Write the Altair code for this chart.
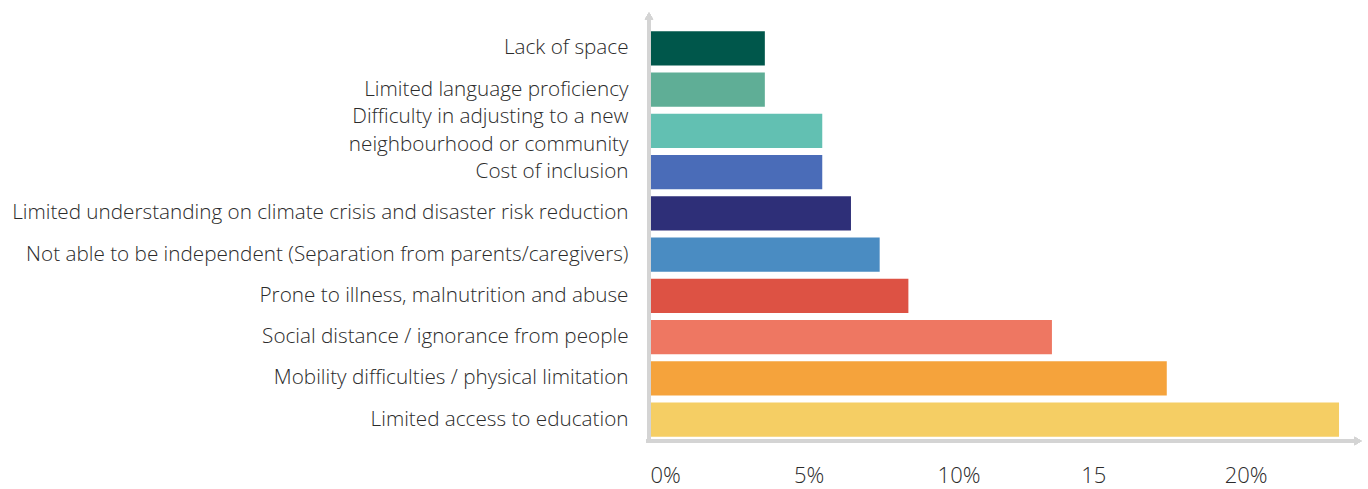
import altair as alt
import pandas as pd

categories = [
    "Lack of space",
    "Limited language proficiency",
    "Difficulty in adjusting to a new|neighbourhood or community",
    "Cost of inclusion",
    "Limited understanding on climate crisis and disaster risk reduction",
    "Not able to be independent (Separation from parents/caregivers)",
    "Prone to illness, malnutrition and abuse",
    "Social distance / ignorance from people",
    "Mobility difficulties / physical limitation",
    "Limited access to education",
]
values = [4, 4, 6, 6, 7, 8, 9, 14, 18, 24]
colors = ["#00574B", "#5FAE96", "#62C0B2", "#4A6CB8", "#2E2F78",
          "#4A8CC2", "#DD5244", "#EE7762", "#F5A33C", "#F5CE64"]
tick_values = [0, 5, 10, 15, 20]

df = pd.DataFrame({"category": categories, "value": values})

FONT = "Open Sans"
AXIS_GREY = "#d4d4d4"
TEXT = "#2b2b2b"

bars = alt.Chart(df).mark_bar().encode(
    x=alt.X("value:Q",
            scale=alt.Scale(domain=[0, 24.8], nice=False, zero=True),
            axis=alt.Axis(values=tick_values, domain=False, ticks=False, grid=False,
                          labelAlign="left", labelPadding=25, labelFontSize=22,
                          labelFont=FONT, labelColor=TEXT, labelFontWeight=300,
                          labelExpr="datum.value == 15 ? '15' : datum.value + '%'",
                          title=None)),
    y=alt.Y("category:N", sort=categories,
            scale=alt.Scale(paddingInner=0.17, paddingOuter=0.08),
            axis=alt.Axis(domain=False, ticks=False, grid=False, labelPadding=22,
                          labelFontSize=20.7, labelFont=FONT, labelColor=TEXT,
                          labelFontWeight=300, labelLimit=700, labelLineHeight=28,
                          labelOffset={"condition": {"test": "indexof(datum.value, '|') >= 0",
                                                     "value": -14},
                                       "value": 0},
                          labelExpr="split(datum.label, '|')", title=None)),
    color=alt.Color("category:N", scale=alt.Scale(domain=categories, range=colors),
                    legend=None),
)

y_line = alt.Chart(df).mark_rule(color=AXIS_GREY, strokeWidth=3).encode(
    x=alt.value(-1), y=alt.value(-10), y2=alt.value(413))
x_line = alt.Chart(df).mark_rule(color=AXIS_GREY, strokeWidth=3).encode(
    x=alt.value(-4), x2=alt.value(706), y=alt.value(413))
y_arrow = alt.Chart(df).mark_point(shape="triangle-up", filled=True, color=AXIS_GREY,
                                   size=70, opacity=1).encode(
    x=alt.value(-1), y=alt.value(-12))
x_arrow = alt.Chart(df).mark_point(shape="triangle-right", filled=True, color=AXIS_GREY,
                                   size=70, opacity=1).encode(
    x=alt.value(708), y=alt.value(413))

chart = alt.layer(bars, y_line, x_line, y_arrow, x_arrow).properties(
    width=712, height=412,
    background="white",
    autosize=alt.AutoSizeParams(type="none"),
    padding={"left": 650, "top": 28, "right": 6, "bottom": 49},
).configure_view(stroke=None)

chart.save("out.html", embed_options={"renderer": "svg", "actions": False})
